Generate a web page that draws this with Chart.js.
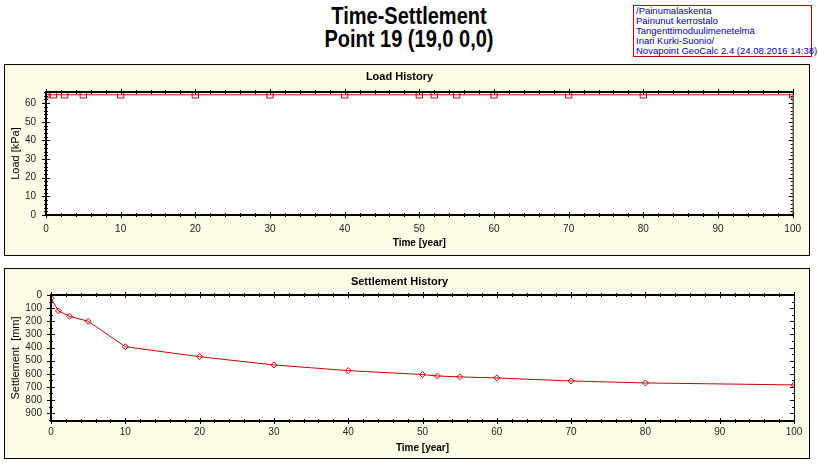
<!DOCTYPE html>
<html>
<head>
<meta charset="utf-8">
<script src="https://cdn.jsdelivr.net/npm/chart.js@4.4.1/dist/chart.umd.min.js"></script>
<style>
  body { margin: 0; width: 818px; height: 468px; background: #fff; position: relative; overflow: hidden; }
  #title { position: absolute; left: 0; top: 5px; width: 818px; text-align: center;
    font: bold 23px/23px "Liberation Sans", Arial, sans-serif; color: #000; transform: scaleX(0.87); transform-origin: 409px 0; }
  #info { position: absolute; left: 633px; top: 5px; width: 175px; height: 50px; padding-left: 2px;
    border: 1px solid #c80000; font: 9.5px/10px "Liberation Sans", Arial, sans-serif; color: #0000c8; white-space: nowrap; }
  .panel { position: absolute; left: 4px; width: 804px; border: 1px solid #000; background: #fcfce6; }
  .panel canvas { display: block; }
</style>
</head>
<body>
<div id="title">Time-Settlement<br>Point 19 (19,0 0,0)</div>
<div id="info">/Painumalaskenta<br>Painunut kerrostalo<br>Tangenttimoduulimenetelmä<br>Inari Kurki-Suonio/<br>Novapoint GeoCalc 2.4 (24.08.2016 14:38)</div>
<div class="panel" style="top:64px;height:190px"><canvas id="loadChart" width="804" height="190"></canvas></div>
<div class="panel" style="top:268px;height:189px"><canvas id="settleChart" width="804" height="189"></canvas></div>
<script>
// time steps [year]
const times = [0, 1, 2.5, 5, 10, 20, 30, 40, 50, 52, 55, 60, 70, 80, 100];
// load [kPa]
const load = [64.5, 64.5, 64.5, 64.5, 64.5, 64.5, 64.5, 64.5, 64.5, 64.5, 64.5, 64.5, 64.5, 64.5, 64.5];
// settlement [mm]
const settlement = [25, 121, 162, 200, 394, 470, 533, 576, 606, 617, 624, 632, 655, 670, 685];
// tick labels
const timeTicks = [0, 10, 20, 30, 40, 50, 60, 70, 80, 90, 100];
const loadTicks = [0, 10, 20, 30, 40, 50, 60];
const settleTicks = [0, 100, 200, 300, 400, 500, 600, 700, 800, 900];

const font = { family: '"Liberation Sans", Arial, sans-serif', size: 10 };
const boldFont = { family: '"Liberation Sans", Arial, sans-serif', size: 10, weight: 'bold' };
const axisTitleFont = { family: '"Liberation Sans", Arial, sans-serif', size: 11 };
const titleFont = { family: '"Liberation Sans", Arial, sans-serif', size: 11, weight: 'bold' };
const red = '#d00000';

function points(ys) {
  return times.map(function(t, i) { return { x: t, y: ys[i] }; });
}

function fixedTicks(values) {
  return function(s) { s.ticks = values.map(function(v) { return { value: v }; }); };
}

// white plot area, axis frame and minor/major tick marks
const axisFrame = {
  id: 'axisFrame',
  beforeDraw(chart) {
    const { ctx, chartArea: a } = chart;
    ctx.save();
    ctx.fillStyle = '#ffffff';
    ctx.fillRect(a.left, a.top, a.right - a.left, a.bottom - a.top);
    ctx.restore();
  },
  afterDraw(chart, args, opts) {
    const { ctx, chartArea: a, scales: { x, y } } = chart;
    ctx.save();
    ctx.strokeStyle = '#000';
    ctx.lineWidth = 1;
    ctx.beginPath();
    for (let v = x.min; v <= x.max; v += opts.xMinor) {
      const px = Math.round(x.getPixelForValue(v)) + 0.5;
      const len = v % opts.xMajor === 0 ? 3 : 2;
      ctx.moveTo(px, a.bottom - len); ctx.lineTo(px, a.bottom + len);
      ctx.moveTo(px, a.top - len); ctx.lineTo(px, a.top + len);
    }
    for (let v = y.min; v <= y.max; v += opts.yMinor) {
      const py = Math.round(y.getPixelForValue(v)) + 0.5;
      const len = v % opts.yMajor === 0 ? 4 : 2;
      ctx.moveTo(a.left - len, py); ctx.lineTo(a.left + len, py);
      ctx.moveTo(a.right - len, py); ctx.lineTo(a.right, py);
    }
    ctx.stroke();
    ctx.lineWidth = 2;
    ctx.beginPath();
    ctx.moveTo(a.left, a.top); ctx.lineTo(a.right, a.top);
    ctx.moveTo(a.left, a.bottom); ctx.lineTo(a.right + 1, a.bottom);
    ctx.moveTo(a.left, a.top - 1); ctx.lineTo(a.left, a.bottom + 1);
    ctx.stroke();
    ctx.lineWidth = 1;
    ctx.beginPath();
    ctx.moveTo(a.right + 0.5, a.top); ctx.lineTo(a.right + 0.5, a.bottom);
    ctx.stroke();
    ctx.restore();
  }
};

const loadConfig = {
  type: 'line',
  data: {
    datasets: [{
      data: points(load),
      borderColor: red,
      borderWidth: 1,
      pointStyle: 'rect',
      pointRadius: 4.5,
      pointBorderColor: red,
      pointBackgroundColor: 'rgba(0,0,0,0)',
      pointBorderWidth: 1
    }]
  },
  options: {
    responsive: false,
    animation: false,
    layout: { padding: { left: 0, right: 15, top: 0, bottom: 2 } },
    plugins: {
      legend: { display: false },
      tooltip: { enabled: false },
      title: { display: true, text: 'Load History', font: titleFont, color: '#000', padding: { top: 5.4, bottom: 8.4 } },
      axisFrame: { xMinor: 2, xMajor: 10, yMinor: 2, yMajor: 10 }
    },
    scales: {
      x: {
        type: 'linear', min: 0, max: 100,
        ticks: { padding: 8, font: font, color: '#222', maxRotation: 0, autoSkip: false },
        afterBuildTicks: fixedTicks(timeTicks),
        grid: { display: false, drawTicks: false },
        border: { display: false },
        title: { display: true, text: 'Time [year]', font: boldFont, color: '#000', padding: { top: 0, bottom: 4 } },
        afterFit: function(s) { s.height = 38; }
      },
      y: {
        min: 0, max: 66,
        ticks: { padding: 10, font: font, color: '#222', autoSkip: false },
        afterBuildTicks: fixedTicks(loadTicks),
        grid: { display: false, drawTicks: false },
        border: { display: false },
        title: { display: true, text: 'Load [kPa]', font: axisTitleFont, color: '#000', padding: { top: 4.7, bottom: 0 } },
        afterFit: function(s) { s.width = 41; }
      }
    }
  },
  plugins: [axisFrame]
};

const settleConfig = {
  type: 'line',
  data: {
    datasets: [{
      data: points(settlement),
      borderColor: red,
      borderWidth: 1,
      pointStyle: 'rectRot',
      pointRadius: 3,
      pointBorderColor: red,
      pointBackgroundColor: 'rgba(0,0,0,0)',
      pointBorderWidth: 1
    }]
  },
  options: {
    responsive: false,
    animation: false,
    layout: { padding: { left: 0, right: 15, top: 0, bottom: 2 } },
    plugins: {
      legend: { display: false },
      tooltip: { enabled: false },
      title: { display: true, text: 'Settlement History', font: titleFont, color: '#000', padding: { top: 6.4, bottom: 6.4 } },
      axisFrame: { xMinor: 2, xMajor: 10, yMinor: 50, yMajor: 100 }
    },
    scales: {
      x: {
        type: 'linear', min: 0, max: 100,
        ticks: { padding: 5, font: font, color: '#222', maxRotation: 0, autoSkip: false },
        afterBuildTicks: fixedTicks(timeTicks),
        grid: { display: false, drawTicks: false },
        border: { display: false },
        title: { display: true, text: 'Time [year]', font: boldFont, color: '#000', padding: { top: 0, bottom: 2 } },
        afterFit: function(s) { s.height = 35; }
      },
      y: {
        min: 0, max: 960, reverse: true,
        ticks: { padding: 9, font: font, color: '#222', autoSkip: false },
        afterBuildTicks: fixedTicks(settleTicks),
        grid: { display: false, drawTicks: false },
        border: { display: false },
        title: { display: true, text: 'Settlement  [mm]', font: axisTitleFont, color: '#000', padding: { top: 4.7, bottom: 0 } },
        afterFit: function(s) { s.width = 46; }
      }
    }
  },
  plugins: [axisFrame]
};

var loadChart = new Chart(document.getElementById('loadChart'), loadConfig);
var settleChart = new Chart(document.getElementById('settleChart'), settleConfig);
</script>
</body>
</html>
